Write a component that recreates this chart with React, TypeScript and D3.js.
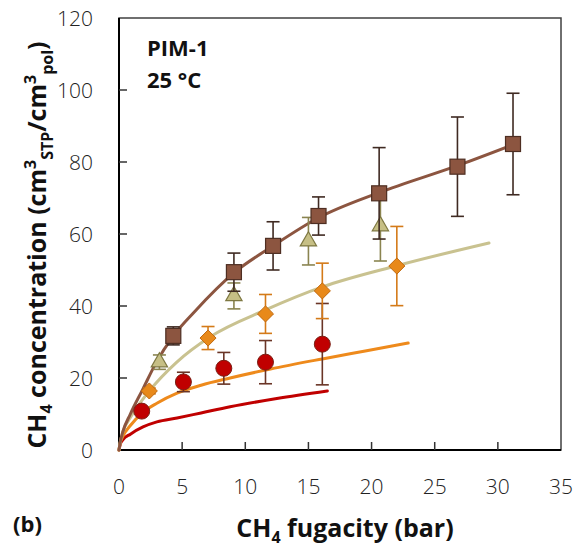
import React from "react";
import * as d3 from "d3";

// ---- data ----
const sqX = [4.3, 9.1, 12.2, 15.8, 20.6, 26.8, 31.2];
const sqY = [31.7, 49.4, 56.7, 65.0, 71.3, 78.7, 85.0];
const sqErr = [2.5, 5.3, 6.7, 5.3, 12.7, 13.8, 14.1];

const triX = [3.2, 9.1, 15.0, 20.7];
const triY = [24.4, 42.8, 58.0, 62.2];
const triErr = [2.0, 3.6, 6.6, 9.7];

const diaX = [2.4, 7.05, 11.6, 16.1, 22.0];
const diaY = [16.4, 31.1, 37.8, 44.2, 51.1];
const diaErr = [0.8, 3.2, 5.4, 7.7, 11.0];

const cirX = [1.8, 5.1, 8.3, 11.6, 16.1];
const cirY = [10.8, 18.9, 22.7, 24.4, 29.4];
const cirErr = [0.8, 2.7, 4.4, 6.0, 11.3];

// fitted curves
const brownCurveX = [0, 0.1, 0.3, 0.9, 1.9, 2.9, 4.3, 6, 9.1, 12.2, 15.8, 20.6, 26.8, 31.7];
const brownCurveY = [0, 2.2, 5, 10, 17, 24, 31.7, 38.5, 49.2, 56.7, 64.5, 71.5, 79, 85.5];
const khakiCurveX = [0, 0.1, 0.3, 0.9, 2.4, 4.6, 7.2, 11.6, 16.1, 22, 29.3];
const khakiCurveY = [0, 2.2, 5, 9, 16.4, 24.5, 31.4, 38.9, 45.3, 51.2, 57.5];
const orangeCurveX = [0, 0.1, 0.3, 0.9, 1.8, 3, 4.6, 6.5, 8.8, 12, 16.1, 19.5, 22.9];
const orangeCurveY = [0, 2, 3.8, 6.8, 10.2, 13, 15.8, 18, 20, 22.5, 25.3, 27.5, 29.7];
const redCurveX = [0, 0.1, 0.3, 0.9, 1.9, 3, 4.6, 6.5, 8.8, 12.5, 16.5];
const redCurveY = [0, 1.6, 2.8, 4.4, 6.4, 7.8, 8.9, 10.3, 12, 14.3, 16.4];

const xTicks = [0, 5, 10, 15, 20, 25, 30, 35];
const yTicks = [0, 20, 40, 60, 80, 100, 120];

const W = 586;
const H = 550;
const L = 119, R = 561, T = 18, B = 450;

const x = d3.scaleLinear().domain([0, 35]).range([L, R]);
const y = d3.scaleLinear().domain([0, 120]).range([B, T]);

const line = d3
  .line<[number, number]>()
  .x((d) => x(d[0]))
  .y((d) => y(d[1]))
  .curve(d3.curveMonotoneX);

const zip = (a: number[], b: number[]) => a.map((v, i) => [v, b[i]] as [number, number]);

const tickFont = "'Open Sans', sans-serif";
const boldFont = "'Open Sans', sans-serif";

function ErrBars({ xs, ys, es, color }: { xs: number[]; ys: number[]; es: number[]; color: string }) {
  return (
    <g stroke={color} strokeWidth={1.6} fill="none">
      {xs.map((xv, i) => {
        const cx = x(xv);
        const top = y(ys[i] + es[i]);
        const bot = y(ys[i] - es[i]);
        return (
          <g key={i}>
            <line x1={cx} x2={cx} y1={top} y2={bot} />
            <line x1={cx - 6.5} x2={cx + 6.5} y1={top} y2={top} />
            <line x1={cx - 6.5} x2={cx + 6.5} y1={bot} y2={bot} />
          </g>
        );
      })}
    </g>
  );
}

export default function App() {
  const sym = d3.symbol();
  return (
    <svg
      width={W}
      height={H}
      style={{ position: "absolute", left: 0, top: 0, background: "#fff" }}
    >
      <rect x={0} y={0} width={W} height={H} fill="#fff" />
      {/* frame */}
      <rect x={L} y={T} width={R - L} height={B - T} fill="none" stroke="#404040" strokeWidth={1.5} />
      <line x1={L} x2={L} y1={T} y2={B} stroke="#000" strokeWidth={2} />
      <line x1={L} x2={R} y1={B} y2={B} stroke="#000" strokeWidth={2} />

      {/* ticks */}
      {yTicks.map((t) => (
        <g key={"y" + t}>
          {t > 0 && t < 120 && (
            <line x1={L} x2={L + 8} y1={y(t)} y2={y(t)} stroke="#333" strokeWidth={1.5} />
          )}
          <text
            x={93}
            y={y(t)}
            textAnchor="end"
            dominantBaseline="central"
            fontFamily={tickFont}
            fontWeight={300}
            fontSize={21}
            fill="#222"
          >
            {t}
          </text>
        </g>
      ))}
      {xTicks.map((t) => (
        <g key={"x" + t}>
          {t > 0 && t < 35 && (
            <line x1={x(t)} x2={x(t)} y1={B} y2={B - 8} stroke="#333" strokeWidth={1.5} />
          )}
          <text
            x={x(t)}
            y={486}
            textAnchor="middle"
            dominantBaseline="central"
            fontFamily={tickFont}
            fontWeight={300}
            fontSize={21}
            fill="#222"
          >
            {t}
          </text>
        </g>
      ))}

      {/* curves */}
      <g fill="none" strokeWidth={3} strokeLinecap="round">
        <path d={line(zip(redCurveX, redCurveY)) || ""} stroke="#C00000" />
        <path d={line(zip(orangeCurveX, orangeCurveY)) || ""} stroke="#EE8A1C" />
        <path d={line(zip(khakiCurveX, khakiCurveY)) || ""} stroke="#C9C290" />
        <path d={line(zip(brownCurveX, brownCurveY)) || ""} stroke="#8C5540" />
      </g>

      {/* circles */}
      <ErrBars xs={cirX} ys={cirY} es={cirErr} color="#6A3526" />
      {cirX.map((xv, i) => (
        <circle key={"c" + i} cx={x(xv)} cy={y(cirY[i])} r={8} fill="#C00000" stroke="#7A1F14" strokeWidth={1} />
      ))}

      {/* diamonds */}
      <ErrBars xs={diaX} ys={diaY} es={diaErr} color="#D47A18" />
      {diaX.map((xv, i) => (
        <path
          key={"d" + i}
          d={sym.type(d3.symbolDiamond2).size(165)() || ""}
          transform={`translate(${x(xv)},${y(diaY[i])})`}
          fill="#E8891A"
          stroke="#C06A10"
          strokeWidth={1}
        />
      ))}

      {/* triangles */}
      <ErrBars xs={triX} ys={triY} es={triErr} color="#8A8450" />
      {triX.map((xv, i) => (
        <path
          key={"t" + i}
          d={sym.type(d3.symbolTriangle).size(115)() || ""}
          transform={`translate(${x(xv)},${y(triY[i])})`}
          fill="#C6BF85"
          stroke="#7E7842"
          strokeWidth={1.2}
        />
      ))}

      {/* squares */}
      <ErrBars xs={sqX} ys={sqY} es={sqErr} color="#3F2A22" />
      {sqX.map((xv, i) => (
        <rect
          key={"s" + i}
          x={x(xv) - 7.5}
          y={y(sqY[i]) - 7.5}
          width={15}
          height={15}
          fill="#8C5540"
          stroke="#4E2E22"
          strokeWidth={1.2}
        />
      ))}

      {/* annotations */}
      <text x={147} y={56} fontFamily={boldFont} fontWeight={700} fontSize={22} fill="#111">
        PIM-1
      </text>
      <text x={147} y={88} fontFamily={boldFont} fontWeight={700} fontSize={22} fill="#111">
        25 °C
      </text>

      <text x={13} y={532} fontFamily={boldFont} fontWeight={700} fontSize={22} fill="#111">
        (b)
      </text>

      {/* x title */}
      <text
        x={345}
        y={537}
        textAnchor="middle"
        fontFamily={boldFont}
        fontWeight={700}
        fontSize={25}
        fill="#111"
      >
        CH<tspan fontSize={16} dy={6}>4</tspan>
        <tspan dy={-6}> fugacity (bar)</tspan>
      </text>

      {/* y title */}
      <text
        transform={`translate(46,245) rotate(-90)`}
        textAnchor="middle"
        fontFamily={boldFont}
        fontWeight={700}
        fontSize={25}
        fill="#111"
      >
        CH<tspan fontSize={16} dy={6}>4</tspan>
        <tspan dy={-6}> concentration (cm</tspan>
        <tspan fontSize={16} dy={-10}>3</tspan>
        <tspan fontSize={16} dy={17}>STP</tspan>
        <tspan dy={-7}>/cm</tspan>
        <tspan fontSize={16} dy={-10}>3</tspan>
        <tspan fontSize={16} dy={17}>pol</tspan>
        <tspan dy={-7}>)</tspan>
      </text>
    </svg>
  );
}
